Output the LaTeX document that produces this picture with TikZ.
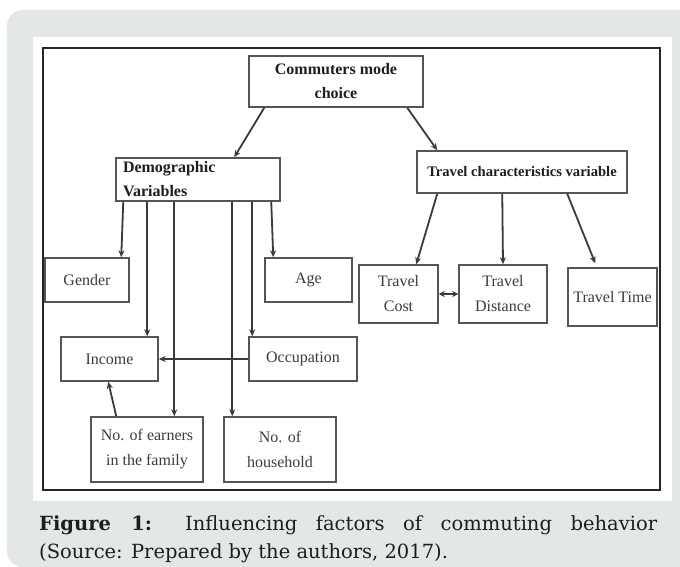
\documentclass[tikz,border=0pt]{standalone}
\usepackage{fontspec}
\newfontfamily\diag{Liberation Serif}
\newfontfamily\capfont{DejaVu Serif}
\usetikzlibrary{arrows.meta,calc}
\definecolor{panelgray}{HTML}{E3E7E7}
\definecolor{boxline}{HTML}{555555}
\definecolor{arrline}{HTML}{3A3A3A}
\definecolor{txtgray}{HTML}{3C3C3C}
\definecolor{txtdark}{HTML}{1E1E1E}
\tikzset{
  box/.style={draw=boxline, line width=1.5pt, fill=white, inner sep=0pt, align=center,
    font=\diag\fontsize{16}{25}\selectfont, text=txtgray},
  boldbox/.style={box, font=\diag\bfseries\fontsize{16}{24}\selectfont, text=txtdark},
  arr/.style={draw=arrline, line width=1.8pt, -{Stealth[length=7pt,width=6pt]}},
  dblarr/.style={draw=arrline, line width=1.8pt, {Stealth[length=6pt,width=6pt]}-{Stealth[length=6pt,width=6pt]}},
  captxt/.style={inner sep=0pt, anchor=base west, text=txtdark, font=\capfont\fontsize{19.5}{28}\selectfont}
}
\begin{document}
\begin{tikzpicture}[x=1pt,y=-1pt]
\useasboundingbox (0,0) rectangle (680,567);
% panels
\fill[panelgray, rounded corners=16pt] (7,10) rectangle (720,567);
\fill[white] (33,37) rectangle (672,501);
\draw[line width=1.8pt, draw=black!85] (43,48) rectangle (660,490);
% nodes
\node[boldbox, minimum width=174pt, minimum height=51pt] (cmc) at (336,81.5) {Commuters mode\\choice};
\node[boldbox, minimum width=164pt, minimum height=43pt, text width=150pt, inner xsep=7pt, align=left] (demo) at (198,179.5) {Demographic\\Variables};
\node[boldbox, minimum width=210pt, minimum height=42pt, font=\diag\bfseries\fontsize{14.6}{20}\selectfont] (tcv) at (522,172) {Travel characteristics variable};
\node[box, minimum width=84pt, minimum height=44pt] (gender) at (87,280) {Gender};
\node[box, minimum width=87pt, minimum height=44pt] (age) at (308.5,280) {Age};
\node[box, minimum width=79pt, minimum height=58pt] (cost) at (398.5,294) {Travel\\Cost};
\node[box, minimum width=88pt, minimum height=58pt] (dist) at (503,294) {Travel\\Distance};
\node[box, minimum width=89pt, minimum height=58pt] (time) at (612.5,297) {Travel Time};
\node[box, minimum width=97pt, minimum height=44pt] (income) at (109.5,359) {Income};
\node[box, minimum width=108pt, minimum height=44pt] (occ) at (303,359) {Occupation};
\node[box, minimum width=112pt, minimum height=65pt] (earn) at (147,449.5) {No. of earners\\in the family};
\node[box, minimum width=112pt, minimum height=65pt] (hh) at (280,449.5) {No. of\\household};
% connectors
\draw[arr] ([xshift=16pt]cmc.south west) -- ([xshift=119pt]demo.north west);
\draw[arr] ([xshift=159pt]cmc.south west) -- ([xshift=21pt]tcv.north west);
\draw[arr] ([xshift=8pt]demo.south west) -- ([xshift=77pt]gender.north west);
\draw[arr] ([xshift=156pt]demo.south west) -- ([xshift=9pt]age.north west);
\draw[arr] ([xshift=32pt]demo.south west) coordinate (d1) -- (d1 |- income.north);
\draw[arr] ([xshift=59pt]demo.south west) coordinate (d2) -- (d2 |- earn.north);
\draw[arr] ([xshift=117pt]demo.south west) coordinate (d3) -- (d3 |- hh.north);
\draw[arr] ([xshift=137pt]demo.south west) coordinate (d4) -- (d4 |- occ.north);
\draw[arr] (occ.west) -- (income.east);
\draw[arr] ([xshift=26pt]earn.north west) -- ([xshift=48pt]income.south west);
\draw[arr] ([xshift=21pt]tcv.south west) -- ([xshift=58pt]cost.north west);
\draw[arr] ([xshift=86pt]tcv.south west) -- (dist.north);
\draw[arr] ([xshift=151pt]tcv.south west) -- ([xshift=28pt,yshift=4pt]time.north west);
\draw[dblarr] (cost.east) -- (dist.west);
% caption
\node[captxt] (cap1) at (39,530) {\makebox[618pt][s]{\textbf{Figure 1:} Influencing factors of commuting behavior}};
\node[captxt] (cap2) at (39,558) {(Source: Prepared by the authors, 2017).};
\end{tikzpicture}
\end{document}
